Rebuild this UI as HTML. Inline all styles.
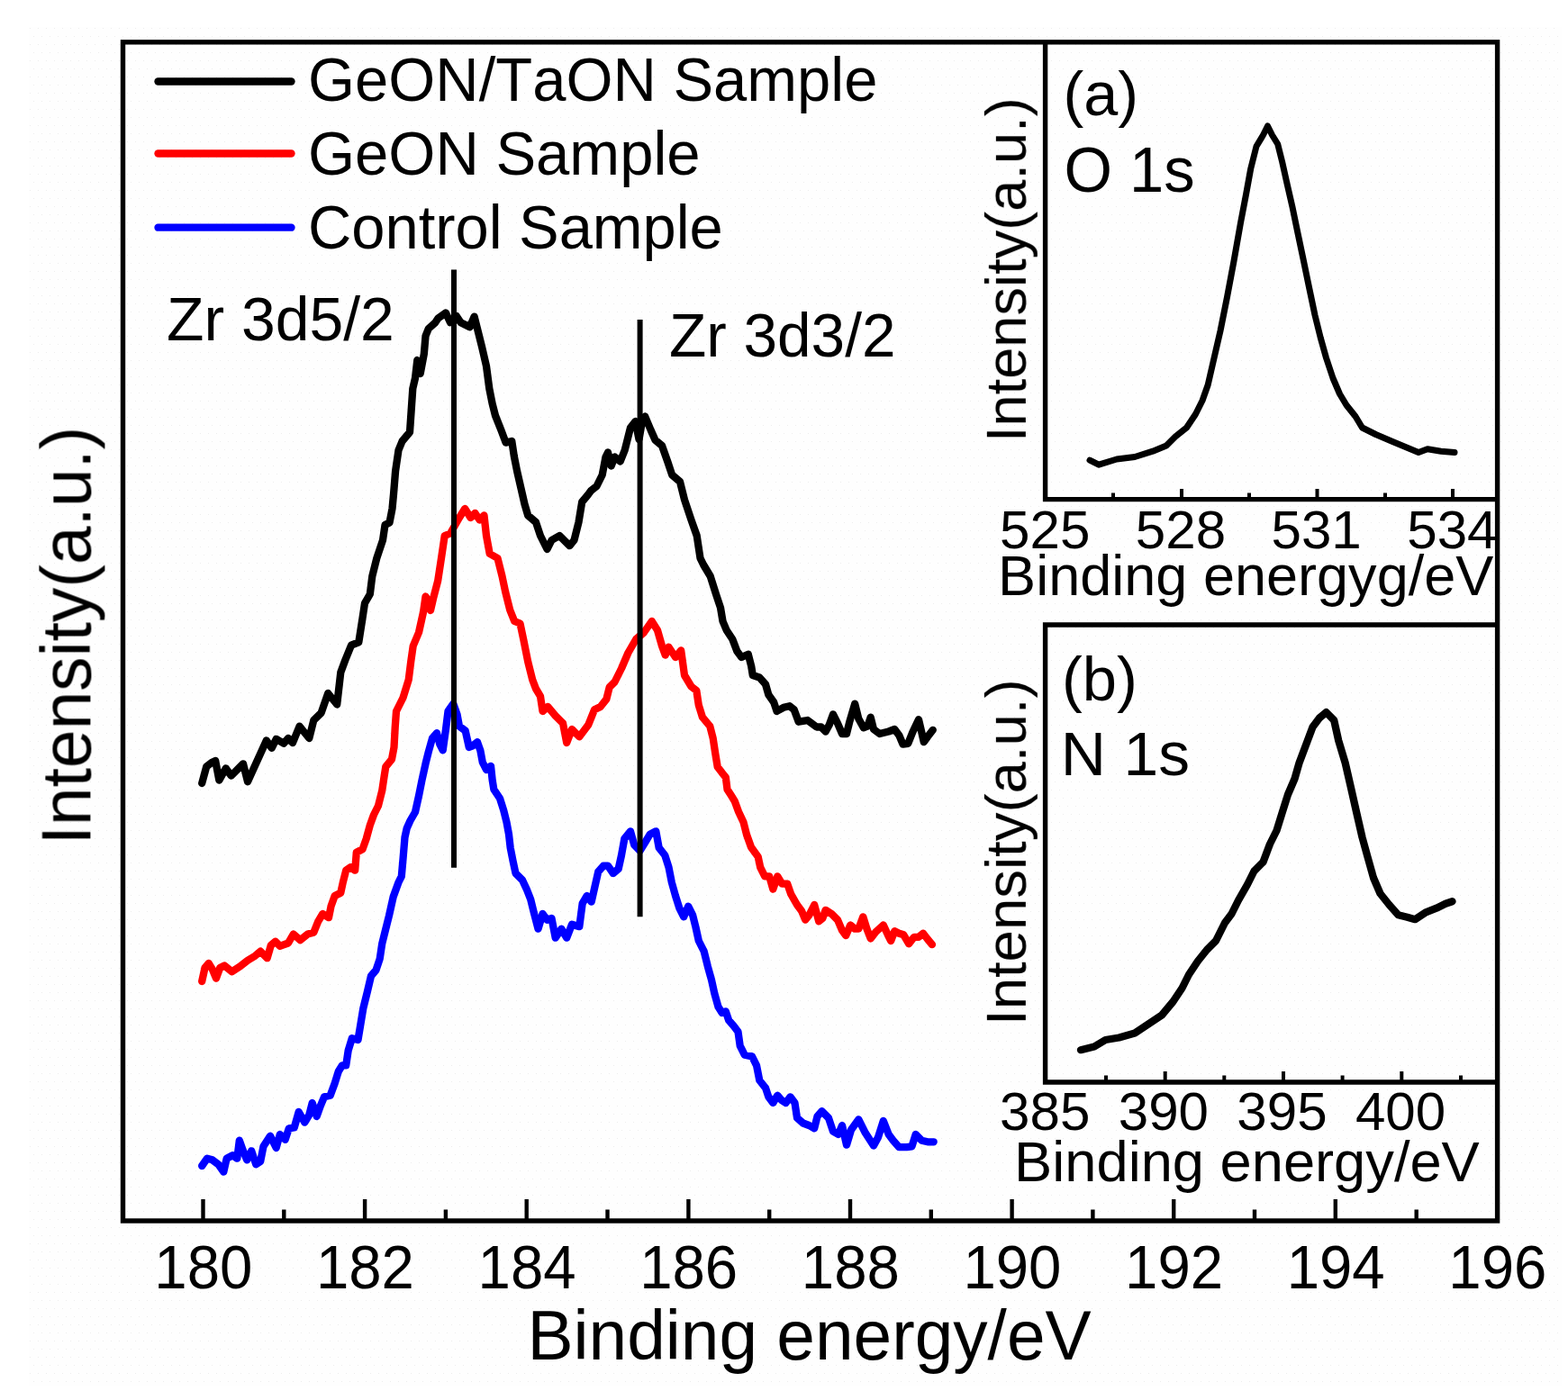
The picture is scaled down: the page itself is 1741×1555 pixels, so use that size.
<!DOCTYPE html>
<html lang="en"><head><meta charset="utf-8"><title>XPS spectra</title>
<style>html,body{margin:0;padding:0;background:#fff}svg{display:block}#art{filter:blur(0.55px)}</style></head>
<body>
<svg width="1741" height="1555" viewBox="0 0 1741 1555" font-family='"Liberation Sans", sans-serif' fill="#000">
<defs><pattern id="dots" x="33" y="31" width="9" height="18" patternUnits="userSpaceOnUse"><rect x="0" y="0" width="1" height="1" fill="#ededed"/><rect x="4" y="9" width="1" height="1" fill="#ededed"/></pattern></defs>
<rect x="0" y="0" width="1741" height="1555" fill="#fff"/>
<rect x="32" y="30" width="1702" height="1510" fill="#fefefe"/>
<rect x="32" y="30" width="1702" height="1510" fill="url(#dots)"/>
<g id="art">
<text id="leg1" transform="translate(342.0,112.25) scale(0.9993,1.02)" font-size="67" text-anchor="start" style="font-kerning:none">GeON/TaON Sample</text>
<text id="leg2" transform="translate(342.0,193.75) scale(1.0,1.02)" font-size="67" text-anchor="start" style="font-kerning:none">GeON Sample</text>
<text id="leg3" transform="translate(342.01,276) scale(0.9978,1.02)" font-size="67" text-anchor="start" style="font-kerning:none">Control Sample</text>
<text id="zr1" transform="translate(184.97,377.5) scale(1.0134,1.02)" font-size="67" text-anchor="start" style="font-kerning:none">Zr 3d5/2</text>
<text id="zr2" transform="translate(742.98,396) scale(1.0082,1.02)" font-size="67" text-anchor="start" style="font-kerning:none">Zr 3d3/2</text>
<text id="ylab" transform="translate(100.8,938.39) rotate(-90) scale(0.9989,1.02)" font-size="76.8" text-anchor="start" style="font-kerning:none">Intensity(a.u.)</text>
<text id="xlab" transform="translate(585.44,1510) scale(1.0083,1.015)" font-size="76" text-anchor="start" style="font-kerning:none">Binding energy/eV</text>
<text id="t180" transform="translate(225.83,1431.2) scale(0.975,1.03)" font-size="67" text-anchor="middle" style="font-kerning:none">180</text>
<text id="t182" transform="translate(405.45,1431.2) scale(0.975,1.03)" font-size="67" text-anchor="middle" style="font-kerning:none">182</text>
<text id="t184" transform="translate(585.07,1431.2) scale(0.975,1.03)" font-size="67" text-anchor="middle" style="font-kerning:none">184</text>
<text id="t186" transform="translate(764.69,1431.2) scale(0.975,1.03)" font-size="67" text-anchor="middle" style="font-kerning:none">186</text>
<text id="t188" transform="translate(944.31,1431.2) scale(0.975,1.03)" font-size="67" text-anchor="middle" style="font-kerning:none">188</text>
<text id="t190" transform="translate(1123.93,1431.2) scale(0.975,1.03)" font-size="67" text-anchor="middle" style="font-kerning:none">190</text>
<text id="t192" transform="translate(1303.55,1431.2) scale(0.975,1.03)" font-size="67" text-anchor="middle" style="font-kerning:none">192</text>
<text id="t194" transform="translate(1483.17,1431.2) scale(0.975,1.03)" font-size="67" text-anchor="middle" style="font-kerning:none">194</text>
<text id="t196" transform="translate(1662.79,1431.2) scale(0.975,1.03)" font-size="67" text-anchor="middle" style="font-kerning:none">196</text>
<text id="a_lab" transform="translate(1180.42,127.5) scale(1.0203,1.03)" font-size="67" text-anchor="start" style="font-kerning:none">(a)</text>
<text id="a_o1s" transform="translate(1181.42,212.5) scale(1.0265,1.04)" font-size="67" text-anchor="start" style="font-kerning:none">O 1s</text>
<text id="a_y" transform="translate(1139,491.12) rotate(-90) scale(1.0191,1.02)" font-size="62" text-anchor="start" style="font-kerning:none">Intensity(a.u.)</text>
<text id="a_t525" transform="translate(1160.25,608.7) scale(1.0272,1.0)" font-size="58.5" text-anchor="middle" style="font-kerning:none">525</text>
<text id="a_t528" transform="translate(1310.95,608.7) scale(1.0272,1.0)" font-size="58.5" text-anchor="middle" style="font-kerning:none">528</text>
<text id="a_t531" transform="translate(1461.65,608.7) scale(1.0272,1.0)" font-size="58.5" text-anchor="middle" style="font-kerning:none">531</text>
<text id="a_t534" transform="translate(1612.35,608.7) scale(1.0272,1.0)" font-size="58.5" text-anchor="middle" style="font-kerning:none">534</text>
<text id="a_x" transform="translate(1108.09,661.2) scale(1.0008,1.01)" font-size="63" text-anchor="start" style="font-kerning:none">Binding energyg/eV</text>
<text id="b_lab" transform="translate(1178.99,777.5) scale(1.0258,1.03)" font-size="67" text-anchor="start" style="font-kerning:none">(b)</text>
<text id="b_n1s" transform="translate(1177.86,861.2) scale(1.0388,1.03)" font-size="67" text-anchor="start" style="font-kerning:none">N 1s</text>
<text id="b_y" transform="translate(1139,1138.94) rotate(-90) scale(1.024,1.02)" font-size="62" text-anchor="start" style="font-kerning:none">Intensity(a.u.)</text>
<text id="b_t385" transform="translate(1160.25,1255) scale(1.0272,1.0)" font-size="58.5" text-anchor="middle" style="font-kerning:none">385</text>
<text id="b_t390" transform="translate(1291.85,1255) scale(1.0272,1.0)" font-size="58.5" text-anchor="middle" style="font-kerning:none">390</text>
<text id="b_t395" transform="translate(1423.45,1255) scale(1.0272,1.0)" font-size="58.5" text-anchor="middle" style="font-kerning:none">395</text>
<text id="b_t400" transform="translate(1555.05,1255) scale(1.0272,1.0)" font-size="58.5" text-anchor="middle" style="font-kerning:none">400</text>
<text id="b_x" transform="translate(1126.09,1312) scale(1.0037,1.0)" font-size="63" text-anchor="start" style="font-kerning:none">Binding energy/eV</text>
<g fill="none" stroke="#000" stroke-width="5.4" stroke-linecap="butt" stroke-linejoin="miter">
<rect x="136.5" y="46.8" width="1526.1" height="1309.2"/>
<path d="M1160.6,46.8 V554.6 H1662.6"/>
<path d="M1662.6,694.0 H1160.6 V1202.0 H1662.6"/>
</g>
<g stroke="#000" stroke-width="4.4" fill="none">
<path d="M225.5,1332 V1356.0"/>
<path d="M315.3,1343.5 V1356.0"/>
<path d="M405.1,1332 V1356.0"/>
<path d="M494.9,1343.5 V1356.0"/>
<path d="M584.7,1332 V1356.0"/>
<path d="M674.5,1343.5 V1356.0"/>
<path d="M764.4,1332 V1356.0"/>
<path d="M854.2,1343.5 V1356.0"/>
<path d="M944.0,1332 V1356.0"/>
<path d="M1033.8,1343.5 V1356.0"/>
<path d="M1123.6,1332 V1356.0"/>
<path d="M1213.4,1343.5 V1356.0"/>
<path d="M1303.2,1332 V1356.0"/>
<path d="M1393.0,1343.5 V1356.0"/>
<path d="M1482.8,1332 V1356.0"/>
<path d="M1572.7,1343.5 V1356.0"/>
</g>
<g stroke="#000" stroke-width="4" fill="none">
<path d="M1236.0,547.5 V554.6"/>
<path d="M1312.0,543 V554.6"/>
<path d="M1387.0,547.5 V554.6"/>
<path d="M1462.5,543 V554.6"/>
<path d="M1538.0,547.5 V554.6"/>
<path d="M1613.0,543 V554.6"/>
<path d="M1228.0,1194.5 V1202.0"/>
<path d="M1293.7,1190 V1202.0"/>
<path d="M1359.3,1194.5 V1202.0"/>
<path d="M1425.0,1190 V1202.0"/>
<path d="M1490.6,1194.5 V1202.0"/>
<path d="M1556.3,1190 V1202.0"/>
<path d="M1622.0,1194.5 V1202.0"/>
</g>
<g fill="none" stroke-width="8.3" stroke-linecap="round">
<path d="M175.5,90.5 H323.5" stroke="#000"/>
<path d="M175.5,170.5 H323.5" stroke="#f00"/>
<path d="M175.5,252.7 H323.5" stroke="#00f"/>
</g>
<g fill="none" stroke-width="8.3" stroke-linejoin="round" stroke-linecap="round">
<path id="c-black" d="M224.2,870.0 L229.2,851.6 L235.0,847.0 L239.2,845.0 L243.3,866.6 L250.8,853.3 L256.7,861.6 L270.0,848.3 L275.0,868.3 L295.8,822.5 L301.7,830.8 L306.7,820.8 L315.0,825.8 L320.0,820.0 L325.0,825.0 L332.5,806.7 L343.3,820.0 L348.3,800.0 L356.7,791.7 L364.2,770.0 L374.2,782.5 L378.3,746.7 L383.3,733.3 L390.0,716.7 L398.3,713.3 L402.5,686.7 L405.0,670.0 L410.8,660.0 L413.3,640.0 L418.3,620.0 L425.0,600.0 L427.5,583.0 L432.5,580.5 L435.5,565.0 L437.0,549.0 L439.1,523.2 L442.5,500.0 L446.6,490.0 L455.0,480.0 L456.6,456.6 L458.3,431.6 L461.0,420.0 L463.3,400.0 L466.7,415.0 L470.8,393.3 L472.5,373.3 L475.8,365.0 L483.3,358.3 L486.6,353.3 L495.0,347.5 L500.0,358.3 L504.0,356.6 L506.6,350.8 L511.6,358.3 L521.6,363.3 L526.6,351.6 L530.0,365.0 L535.0,385.0 L540.0,406.6 L543.3,431.6 L546.6,448.3 L550.0,461.6 L556.6,478.3 L561.6,491.6 L568.3,490.0 L570.8,506.6 L574.1,523.3 L580.0,549.0 L582.5,560.0 L586.2,572.5 L595.0,580.0 L600.0,595.0 L607.5,610.0 L612.5,600.0 L621.2,595.0 L632.5,606.2 L637.5,600.0 L642.5,580.0 L646.2,557.5 L652.5,550.0 L656.2,545.0 L662.5,540.0 L668.7,527.5 L672.5,507.5 L675.0,502.5 L678.7,517.5 L682.5,507.5 L688.7,512.5 L693.7,500.0 L700.0,475.0 L705.5,468.0 L709.5,488.0 L713.0,468.0 L716.2,462.5 L722.5,477.5 L727.5,488.7 L735.0,495.0 L741.2,512.5 L746.2,527.5 L755.0,535.0 L760.0,555.0 L767.5,577.5 L773.7,595.0 L777.5,620.0 L781.2,627.5 L788.7,640.0 L795.0,660.0 L800.0,675.0 L802.5,690.0 L806.7,700.0 L813.3,710.0 L818.3,723.3 L823.3,730.0 L830.8,726.7 L834.2,740.0 L835.8,750.0 L843.3,752.5 L850.0,760.0 L853.3,771.7 L859.2,780.0 L862.5,790.0 L870.0,785.8 L876.7,784.2 L881.7,788.3 L886.7,801.7 L896.7,800.0 L906.7,807.5 L911.7,807.5 L916.7,812.5 L920.8,805.0 L925.0,793.3 L930.0,803.3 L935.0,815.0 L940.0,815.0 L943.3,801.7 L949.2,781.7 L953.3,798.3 L958.8,808.3 L963.3,806.7 L966.7,796.7 L970.0,810.0 L976.7,815.0 L986.7,812.5 L993.3,810.0 L998.3,816.7 L1002.5,826.7 L1008.3,825.8 L1013.3,813.3 L1020.0,799.2 L1023.3,813.3 L1025.8,824.2 L1030.0,818.3 L1035.8,810.8" stroke="#000"/>
<path id="c-red" d="M224.2,1090.0 L227.5,1075.0 L231.7,1070.0 L235.8,1076.7 L240.0,1086.7 L244.2,1075.0 L249.2,1072.5 L257.5,1079.2 L266.7,1073.3 L275.0,1066.7 L283.3,1061.7 L289.2,1056.7 L296.7,1064.2 L300.8,1050.0 L305.8,1045.8 L310.8,1050.8 L320.0,1047.5 L325.8,1037.5 L333.3,1044.2 L341.7,1037.5 L348.3,1035.8 L353.3,1023.3 L358.3,1015.0 L365.0,1019.2 L367.5,1006.7 L371.7,995.0 L378.3,991.7 L380.8,980.0 L384.2,966.7 L389.2,963.3 L394.2,966.7 L395.8,946.7 L402.5,943.3 L406.7,931.7 L410.8,916.7 L415.0,905.0 L420.0,895.0 L424.2,878.3 L426.7,861.7 L428.3,851.7 L435.0,843.3 L437.5,830.0 L438.7,808.0 L440.0,790.0 L447.5,775.0 L453.7,755.0 L456.2,735.0 L458.7,717.5 L465.0,702.5 L470.0,680.0 L472.5,662.5 L476.0,668.0 L478.0,678.0 L481.0,665.0 L486.2,645.0 L490.0,620.0 L493.7,595.0 L500.0,592.5 L510.0,575.0 L516.2,565.0 L522.5,575.0 L527.5,570.0 L532.5,577.5 L537.5,572.5 L540.0,595.0 L543.7,615.0 L552.5,620.0 L557.5,640.0 L561.2,657.5 L566.2,677.5 L571.2,690.0 L577.5,692.5 L581.2,710.0 L586.2,735.0 L591.2,755.0 L595.0,765.0 L600.0,773.3 L602.5,790.0 L608.3,785.0 L616.7,795.0 L625.0,803.3 L629.2,825.0 L635.0,810.0 L643.3,818.3 L653.3,805.0 L660.0,788.3 L666.7,785.0 L673.3,776.7 L676.7,763.3 L682.5,757.5 L690.0,742.5 L697.5,725.0 L706.2,710.0 L715.0,702.5 L723.7,690.0 L730.0,700.0 L735.0,717.5 L738.7,727.5 L742.5,718.7 L750.0,730.0 L756.2,722.5 L760.0,750.0 L767.5,762.5 L773.3,767.0 L775.8,783.3 L780.0,796.7 L788.3,806.7 L791.7,820.0 L794.2,836.7 L796.7,851.7 L801.7,858.3 L805.8,863.3 L807.5,876.7 L811.7,883.3 L815.8,890.0 L820.0,901.5 L825.5,913.3 L829.0,927.0 L834.0,941.0 L841.7,951.7 L844.2,963.3 L849.2,973.3 L854.2,973.3 L858.3,987.5 L863.3,973.3 L868.3,981.7 L874.2,981.7 L878.3,993.3 L885.0,1005.0 L890.0,1011.7 L894.2,1021.7 L898.3,1016.7 L904.2,1005.0 L909.2,1023.3 L913.3,1020.0 L916.7,1010.8 L923.3,1015.0 L930.0,1021.7 L935.0,1033.3 L939.2,1039.2 L944.2,1027.5 L949.2,1031.7 L953.3,1031.7 L958.3,1018.3 L962.5,1031.7 L966.7,1042.5 L972.5,1035.0 L980.8,1027.5 L985.8,1038.3 L989.2,1045.0 L993.3,1034.2 L998.3,1036.7 L1003.3,1038.3 L1009.2,1048.3 L1015.0,1040.8 L1020.0,1040.8 L1025.0,1036.7 L1030.0,1043.3 L1035.0,1049.2" stroke="#f00"/>
<path id="c-blue" d="M224.2,1295.0 L230.0,1286.7 L235.8,1288.3 L242.5,1293.3 L248.3,1301.7 L251.7,1286.7 L258.3,1283.3 L263.3,1286.7 L265.8,1266.7 L270.0,1278.3 L274.2,1288.3 L279.2,1278.3 L284.2,1293.3 L289.2,1290.0 L292.5,1273.3 L300.0,1261.7 L306.7,1275.0 L310.8,1260.0 L316.7,1265.8 L320.8,1253.3 L326.7,1252.5 L331.7,1235.0 L338.3,1246.7 L343.3,1238.3 L346.7,1225.0 L351.7,1240.0 L355.8,1228.3 L360.0,1218.3 L366.7,1216.7 L371.7,1203.3 L375.8,1190.0 L380.0,1183.3 L384.2,1183.3 L386.7,1166.7 L390.8,1153.3 L397.5,1155.0 L400.0,1140.0 L403.3,1120.0 L408.0,1101.0 L412.0,1084.0 L417.5,1077.5 L421.7,1065.0 L424.2,1048.3 L428.3,1031.7 L432.0,1017.0 L436.7,996.0 L442.5,980.0 L445.8,973.3 L447.5,954.0 L449.5,930.0 L451.7,920.0 L455.5,911.5 L461.0,902.0 L465.0,884.0 L468.5,866.5 L472.5,848.3 L475.8,835.0 L480.0,820.0 L485.0,814.2 L488.3,826.7 L491.7,833.3 L495.0,810.0 L497.5,790.0 L503.3,781.7 L507.5,793.3 L510.0,806.7 L516.7,811.7 L520.8,830.0 L525.0,828.3 L530.0,824.2 L533.3,833.3 L535.8,846.7 L540.0,855.0 L545.0,850.8 L546.7,866.7 L548.3,876.7 L555.0,886.7 L559.2,900.0 L562.5,913.3 L565.0,926.7 L566.7,941.7 L569.5,956.0 L572.5,970.0 L580.0,977.5 L585.0,988.3 L589.2,999.0 L592.5,1012.5 L597.5,1031.7 L602.5,1015.0 L607.5,1021.7 L612.5,1020.0 L616.7,1041.7 L623.3,1031.7 L629.2,1041.7 L635.0,1026.7 L643.3,1029.2 L646.7,1003.3 L651.7,995.0 L656.7,1001.7 L660.8,983.3 L664.2,968.3 L670.0,961.7 L675.0,961.7 L680.8,970.0 L686.7,965.0 L690.0,950.0 L693.3,931.7 L700.0,923.3 L704.2,938.3 L710.5,945.0 L716.7,935.0 L721.7,926.7 L728.3,923.3 L731.7,941.7 L738.3,950.0 L742.5,963.3 L745.8,980.0 L750.0,995.0 L754.2,1008.3 L759.2,1018.3 L764.2,1006.7 L769.2,1016.7 L772.5,1030.0 L775.8,1045.0 L781.7,1056.7 L785.8,1073.3 L790.0,1088.3 L793.3,1103.3 L797.5,1118.3 L801.7,1125.0 L805.8,1123.3 L809.2,1133.3 L815.0,1140.0 L819.5,1146.0 L821.7,1161.7 L826.7,1171.7 L835.0,1173.3 L840.0,1183.3 L843.3,1200.0 L850.0,1208.3 L853.3,1218.3 L858.3,1225.0 L863.3,1216.7 L867.5,1221.7 L872.5,1225.0 L877.5,1218.3 L882.5,1225.0 L885.0,1241.7 L891.7,1247.5 L898.3,1250.0 L904.2,1253.3 L907.5,1240.0 L912.5,1234.2 L920.0,1241.7 L925.0,1256.7 L930.8,1260.0 L935.0,1250.0 L940.0,1271.7 L945.0,1255.0 L953.3,1243.3 L960.8,1258.3 L970.0,1272.5 L975.0,1263.3 L980.8,1245.0 L986.7,1260.0 L991.7,1266.7 L998.3,1274.2 L1006.7,1274.2 L1012.5,1273.3 L1016.7,1260.0 L1023.3,1266.7 L1030.0,1268.3 L1036.7,1268.3" stroke="#00f"/>
</g>
<g fill="none" stroke="#000" stroke-linejoin="round" stroke-linecap="round">
<path id="c-ia" d="M1210.0,511.2 L1220.0,516.2 L1240.0,510.0 L1260.0,507.5 L1280.0,501.2 L1295.0,495.0 L1305.0,485.0 L1317.5,475.0 L1327.5,460.0 L1335.0,445.0 L1341.2,427.5 L1347.5,400.0 L1355.0,367.5 L1362.5,330.0 L1370.0,290.0 L1377.5,247.5 L1383.7,215.0 L1388.7,187.5 L1395.0,162.5 L1402.5,150.0 L1407.5,140.0 L1412.5,150.0 L1418.7,160.0 L1423.7,180.0 L1428.7,202.5 L1435.0,230.0 L1441.2,260.0 L1447.5,290.0 L1453.7,320.0 L1460.0,350.0 L1466.2,375.0 L1472.5,397.5 L1480.0,420.0 L1487.5,437.5 L1495.0,450.0 L1505.0,462.5 L1512.5,475.0 L1527.5,482.5 L1545.0,490.0 L1560.0,496.2 L1575.0,502.5 L1585.0,498.7 L1600.0,501.2 L1615.0,502.5" stroke-width="7"/>
<path id="c-ib" d="M1200.0,1166.2 L1215.0,1162.5 L1227.5,1155.0 L1242.5,1152.5 L1260.0,1147.5 L1275.0,1137.5 L1290.0,1127.5 L1302.5,1112.5 L1312.5,1097.5 L1320.0,1082.5 L1330.0,1067.5 L1340.0,1055.0 L1350.0,1045.0 L1360.0,1025.0 L1367.5,1015.0 L1375.0,1000.0 L1385.0,982.5 L1392.5,967.5 L1402.5,957.5 L1410.0,937.5 L1417.5,922.5 L1423.7,902.5 L1430.0,882.5 L1437.5,865.0 L1442.5,847.5 L1450.0,827.5 L1457.5,807.5 L1465.0,797.5 L1472.5,791.2 L1481.2,800.0 L1486.2,822.5 L1493.7,847.5 L1500.0,875.0 L1506.2,902.5 L1512.5,930.0 L1518.7,952.5 L1525.0,975.0 L1532.5,992.5 L1542.5,1005.0 L1552.5,1016.2 L1562.5,1018.7 L1571.2,1021.2 L1582.5,1013.7 L1595.0,1008.7 L1605.0,1003.7 L1612.5,1001.2" stroke-width="8.3"/>
</g>
<g fill="none" stroke="#000" stroke-width="6.0">
<path d="M504,299.5 V963.7"/>
<path d="M710.6,355 V1018.3"/>
</g>
</g>
</svg>
</body></html>
